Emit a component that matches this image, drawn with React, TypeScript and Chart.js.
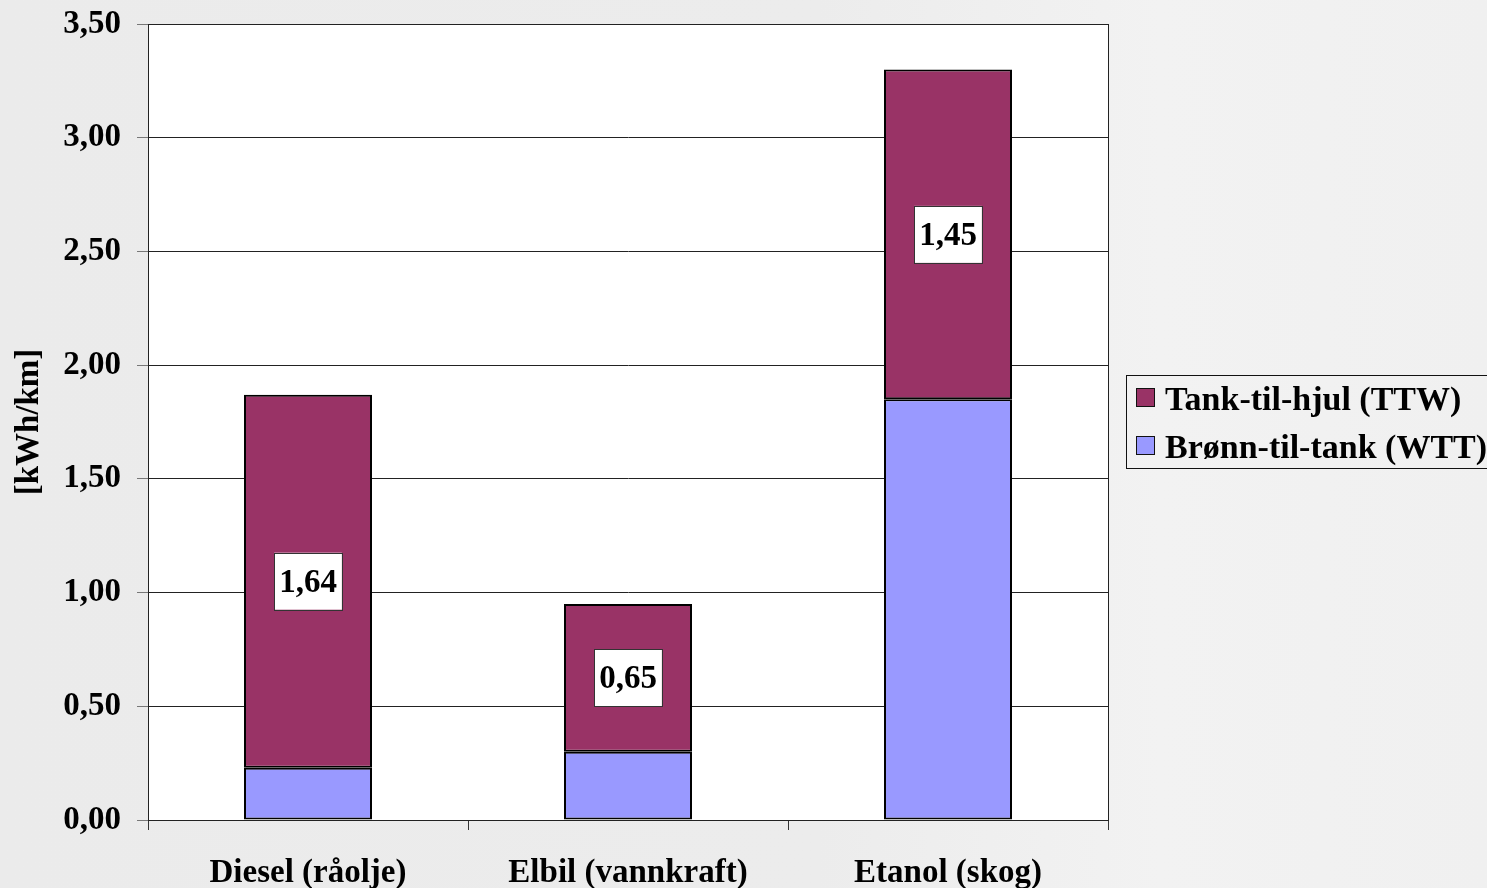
import React, { useEffect, useRef } from "react";
import { Chart, registerables } from "chart.js";

Chart.register(...registerables);

const categories = ["Diesel (råolje)", "Elbil (vannkraft)", "Etanol (skog)"];
const wttValues = [0.23, 0.3, 1.85];
const ttwValues = [1.64, 0.65, 1.45];
const seriesNames = ["Brønn-til-tank (WTT)", "Tank-til-hjul (TTW)"];
const seriesColors = ["#9999ff", "#993366"];
const yMax = 3.5;
const yStep = 0.5;
const yTitle = "[kWh/km]";

const FONT = "'Liberation Serif', 'Times New Roman', serif";

const fmt = (v: number) => v.toFixed(2).replace(".", ",");

const plotBg = {
  id: "plotBg",
  beforeDraw(chart: any) {
    const { ctx, chartArea: a } = chart;
    ctx.save();
    ctx.fillStyle = "#ffffff";
    ctx.fillRect(a.left, a.top, a.right - a.left, a.bottom - a.top);
    ctx.restore();
  },
  beforeDatasetsDraw(chart: any) {
    const { ctx, chartArea: a } = chart;
    ctx.save();
    ctx.strokeStyle = "#222";
    ctx.lineWidth = 1;
    ctx.strokeRect(Math.round(a.left) + 0.5, Math.round(a.top) + 0.5, Math.round(a.right - a.left), Math.round(a.bottom - a.top));
    ctx.restore();
  },
};

const valueLabels = {
  id: "valueLabels",
  afterDatasetsDraw(chart: any) {
    const { ctx } = chart;
    const meta = chart.getDatasetMeta(1);
    const ds = chart.data.datasets[1];
    ctx.save();
    ctx.font = `bold 33px ${FONT}`;
    ctx.textAlign = "center";
    ctx.textBaseline = "middle";
    meta.data.forEach((bar: any, i: number) => {
      const v = ds.data[i];
      const txt = fmt(v);
      const cx = bar.x;
      const cy = (bar.y + bar.base) / 2;
      const w = ctx.measureText(txt).width + 10;
      const h = 57;
      ctx.fillStyle = "#ffffff";
      ctx.fillRect(cx - w / 2, cy - h / 2, w, h);
      ctx.strokeStyle = "#333";
      ctx.lineWidth = 1;
      ctx.strokeRect(Math.round(cx - w / 2) + 0.5, Math.round(cy - h / 2) + 0.5, Math.round(w), h);
      ctx.fillStyle = "#000";
      ctx.fillText(txt, cx, cy + 2);
    });
    ctx.restore();
  },
};

const customLegend = {
  id: "customLegend",
  afterDraw(chart: any) {
    const { ctx } = chart;
    const left = 1126;
    const top = 375;
    const width = 361;
    const height = 93;
    ctx.save();
    ctx.strokeStyle = "#111";
    ctx.lineWidth = 1;
    ctx.strokeRect(left + 0.5, top + 0.5, width, height);
    ctx.font = `bold 34px ${FONT}`;
    ctx.textBaseline = "middle";
    ctx.textAlign = "left";
    const order = [1, 0];
    order.forEach((di, row) => {
      const ds = chart.data.datasets[di];
      const cy = 398 + row * 48;
      ctx.fillStyle = ds.backgroundColor;
      ctx.fillRect(1136, cy - 10, 19, 19);
      ctx.strokeStyle = "#111";
      ctx.strokeRect(1136.5, cy - 9.5, 18, 18);
      ctx.fillStyle = "#000";
      ctx.fillText(ds.label, 1165, cy + 3);
    });
    ctx.restore();
  },
};

export default function App() {
  const ref = useRef<HTMLCanvasElement | null>(null);

  useEffect(() => {
    document.body.style.margin = "0";
    const canvas = ref.current!;
    const chart = new Chart(canvas, {
      type: "bar",
      data: {
        labels: categories,
        datasets: [
          {
            label: seriesNames[0],
            data: wttValues,
            backgroundColor: seriesColors[0],
            borderColor: "#000",
            borderWidth: 2,
            borderSkipped: false,
            barPercentage: 0.4,
            categoryPercentage: 1,
          },
          {
            label: seriesNames[1],
            data: ttwValues,
            backgroundColor: seriesColors[1],
            borderColor: "#000",
            borderWidth: 2,
            borderSkipped: false,
            barPercentage: 0.4,
            categoryPercentage: 1,
          },
        ],
      },
      options: {
        responsive: false,
        animation: false,
        layout: { padding: { left: 0, top: 24, right: 379, bottom: 0 } },
        plugins: {
          legend: { display: false },
          tooltip: { enabled: false },
        },
        scales: {
          x: {
            stacked: true,
            grid: {
              offset: true,
              drawOnChartArea: false,
              drawTicks: true,
              tickLength: 10,
              color: "#333",
            },
            border: { display: true, color: "#222", width: 1 },
            ticks: {
              color: "#000",
              font: { family: FONT, size: 33, weight: "bold" },
              padding: 24,
              maxRotation: 0,
            },
            afterFit(scale: any) {
              scale.height = 68;
              scale.paddingLeft = 0;
              scale.paddingRight = 0;
            },
          },
          y: {
            stacked: true,
            min: 0,
            max: yMax,
            grid: {
              color: "#222",
              tickColor: "#777",
              tickLength: 11,
              lineWidth: 1,
            },
            border: { display: true, color: "#222", width: 1 },
            ticks: {
              stepSize: yStep,
              color: "#000",
              font: { family: FONT, size: 33, weight: "bold" },
              padding: 16,
              callback: (v: any) => fmt(Number(v)),
            },
            title: {
              display: true,
              text: yTitle,
              color: "#000",
              font: { family: FONT, size: 33, weight: "bold" },
              padding: { top: 10, bottom: 0 },
            },
            afterFit(scale: any) {
              scale.width = 148;
              scale.paddingTop = 0;
              scale.paddingBottom = 0;
            },
          },
        },
      },
      plugins: [plotBg, valueLabels, customLegend],
    });
    return () => chart.destroy();
  }, []);

  return (
    <div
      style={{
        position: "fixed",
        left: 0,
        top: 0,
        width: 1487,
        height: 888,
        background:
          "linear-gradient(90deg, #ebebeb 0%, #ececec 55%, #f2f2f2 78%, #f0f0f0 100%)",
      }}
    >
      <canvas ref={ref} width={1487} height={888} style={{ display: "block" }} />
    </div>
  );
}
